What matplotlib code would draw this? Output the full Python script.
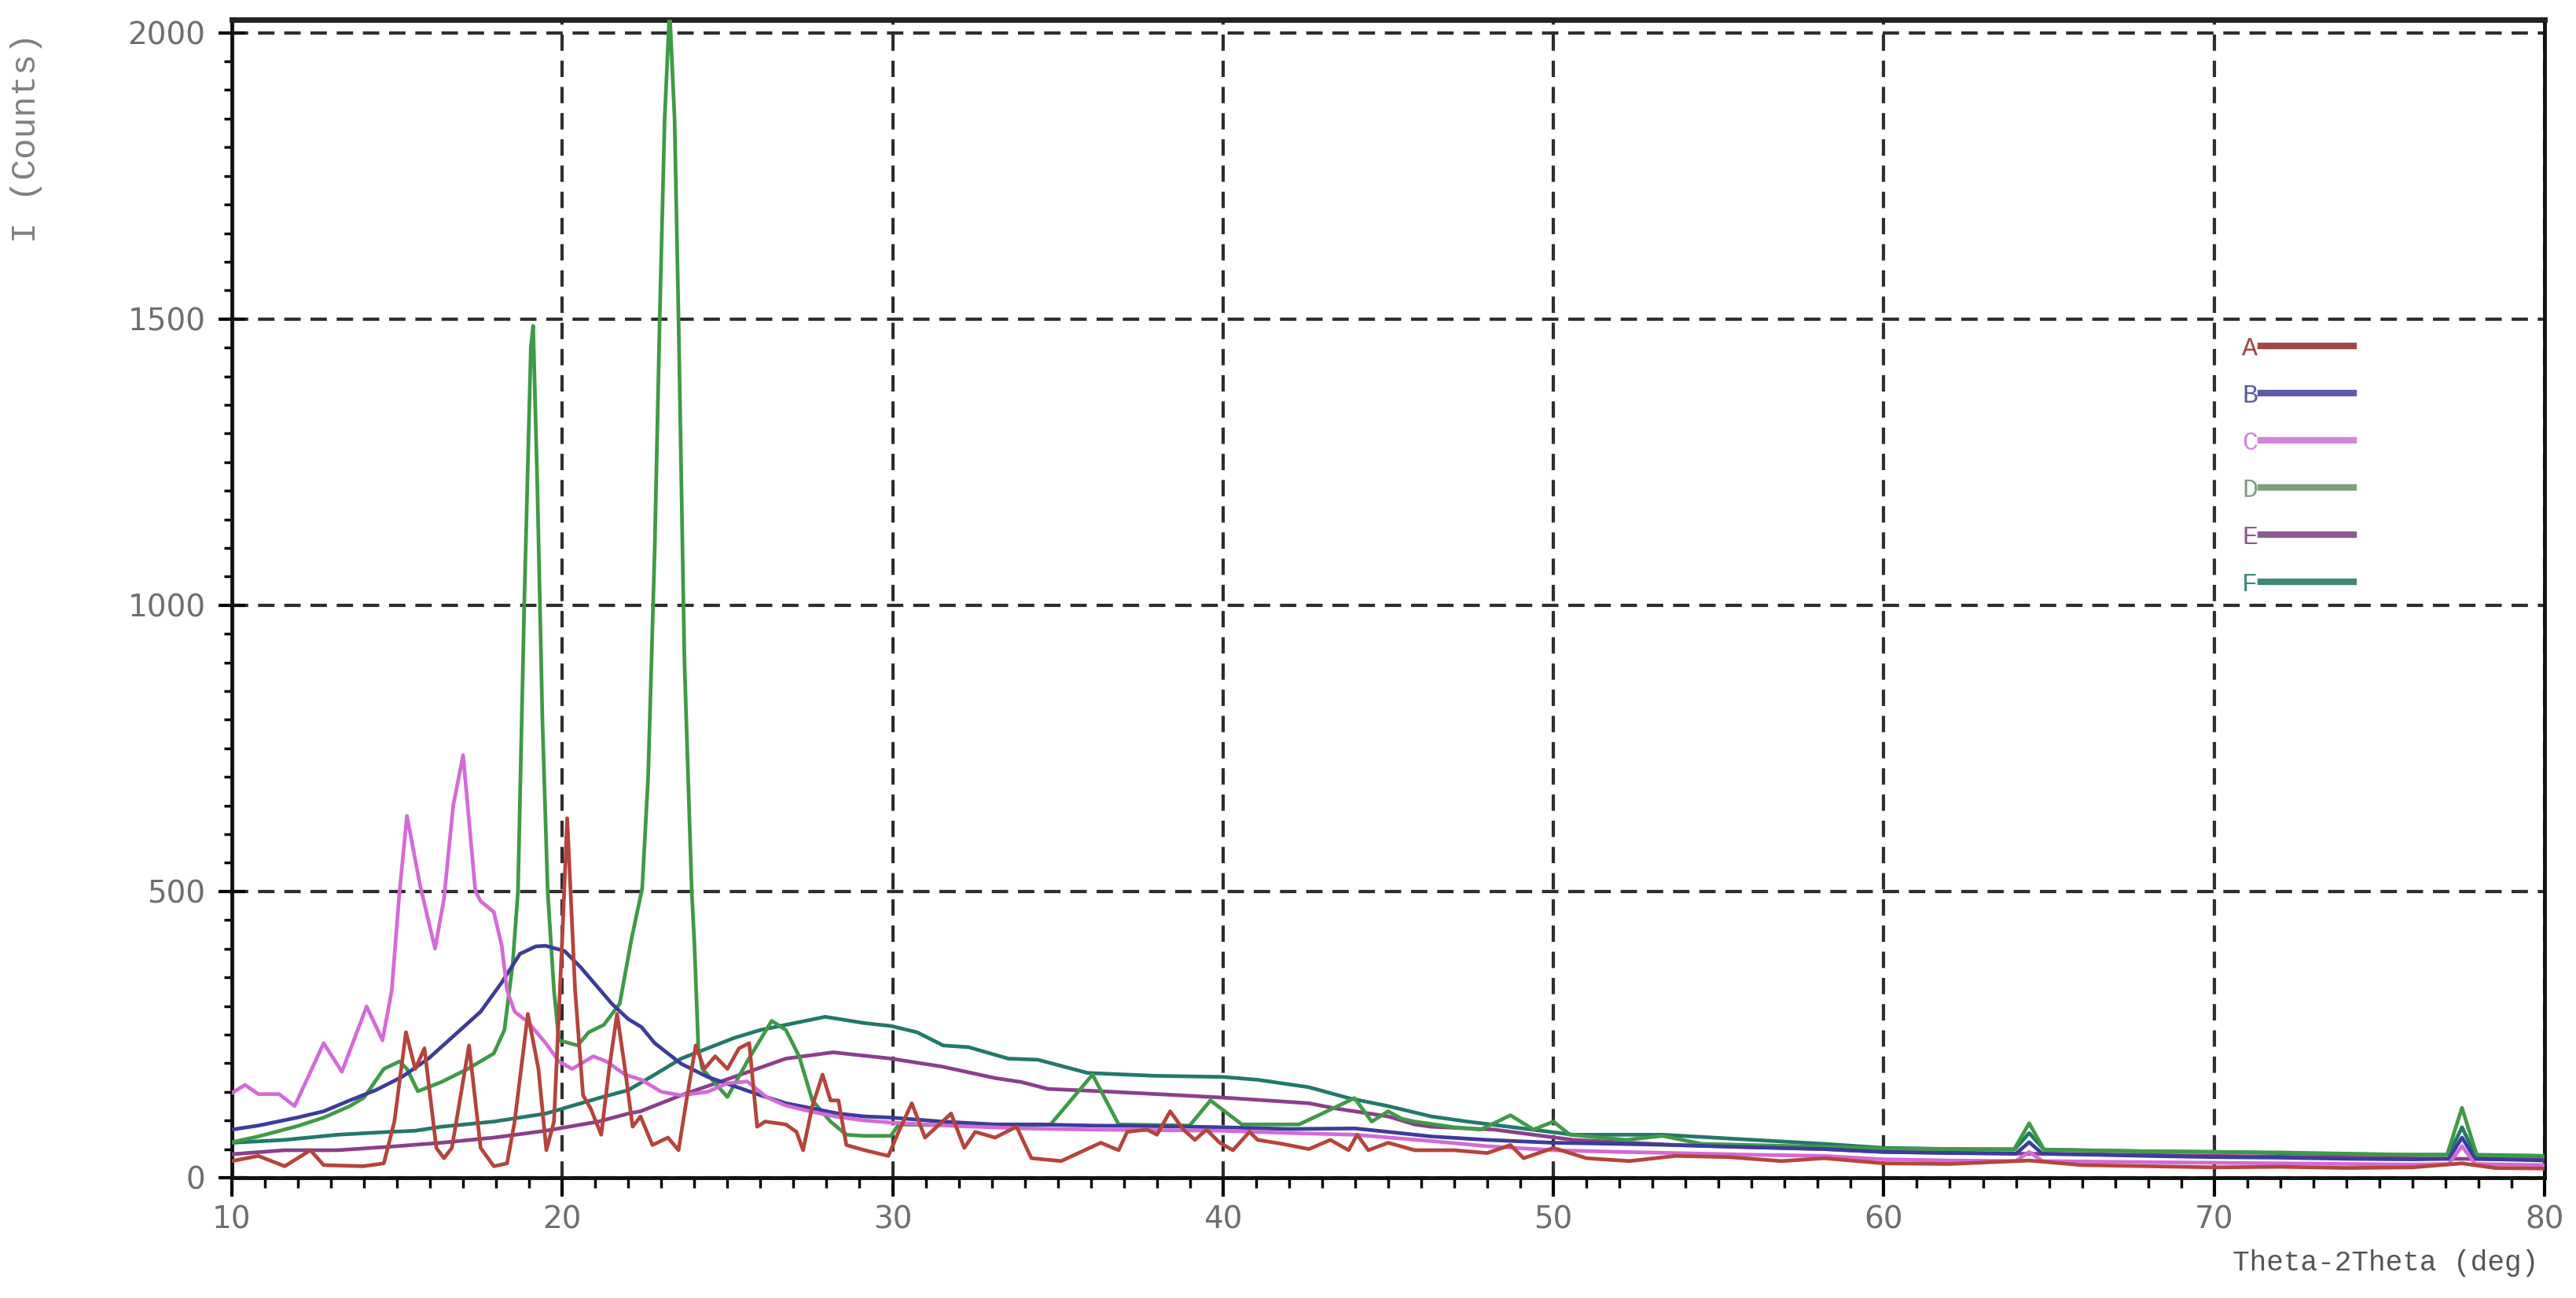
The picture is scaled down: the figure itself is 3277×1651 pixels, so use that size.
import matplotlib
matplotlib.use('Agg')
from matplotlib import pyplot as plt
from matplotlib.ticker import MultipleLocator
from matplotlib.lines import Line2D

# 读图得到的衍射数据 (2theta, counts)
a_x = [10, 10.8, 11.6, 12.38, 12.78, 13.97, 14.6, 14.92, 15.27, 15.55, 15.83, 16.19, 16.42, 16.66,
       17.18, 17.53, 17.93, 18.33, 18.56, 18.96, 19.28, 19.52, 19.75, 20.0, 20.15, 20.39, 20.63,
       20.86, 21.18, 21.42, 21.66, 21.9, 22.13, 22.37, 22.73, 23.2, 23.52, 23.76, 24.04, 24.3,
       24.63, 25.0, 25.35, 25.66, 25.9, 26.14, 26.77, 27.09, 27.29, 27.57, 27.88, 28.12, 28.36,
       28.6, 29.15, 29.87, 30.18, 30.58, 30.98, 31.77, 32.17, 32.5, 33.1, 33.75, 34.2, 35.1,
       36.3, 36.84, 37.1, 37.7, 38.0, 38.4, 38.8, 39.15, 39.5, 39.9, 40.3, 40.8, 41.05, 41.8,
       42.6, 43.25, 43.8, 44.06, 44.4, 45.0, 45.8, 47.0, 48.0, 48.7, 49.1, 50.0, 51.0, 52.3,
       53.7, 55.3, 56.9, 58.2, 60, 62, 64.4, 66, 68, 70, 72, 74, 76, 77.5, 78.5, 80]
a_y = [29, 38, 20, 48, 22, 20, 25, 98, 254, 190, 226, 52, 34, 52,
       231, 52, 20, 25, 98, 286, 190, 48, 98, 418, 628, 327, 144,
       121, 75, 190, 286, 190, 89, 107, 57, 70, 48, 135, 231, 190,
       212, 190, 226, 235, 89, 98, 93, 80, 48, 125, 180, 135, 135,
       57, 48, 38, 80, 130, 70, 112, 52, 80, 70, 89, 34, 29,
       61, 48, 80, 84, 75, 116, 84, 66, 84, 61, 48, 80, 66, 59,
       50, 66, 48, 75, 48, 61, 48, 48, 43, 57, 34, 52, 34, 29,
       38, 36, 29, 34, 25, 24, 30, 22, 20, 18, 19, 17, 18, 25, 17, 16]

b_x = [10, 10.8, 11.98, 12.78, 13.57, 14.36, 15.15, 15.95, 16.74, 17.53, 18.17, 18.72, 19.2,
       19.5, 20.07, 20.55, 21.1, 21.5, 22.0, 22.4, 22.8, 23.6, 24.4, 25.2, 26.0, 26.77, 27.57,
       28.36, 29.15, 29.95, 31.5, 33.1, 34.4, 36, 38, 40, 42, 44, 45, 46.3, 48, 50, 52, 53.7,
       56, 58.2, 60, 62, 64.0, 64.4, 64.8, 68, 70, 72, 74, 76, 77.1, 77.5, 77.9, 80]
b_y = [84, 91, 105, 116, 135, 153, 176, 208, 249, 290, 341, 391, 404,
       405, 396, 368, 331, 304, 277, 263, 235, 199, 176, 160, 144, 130, 121,
       112, 107, 105, 98, 93, 93, 91, 90, 88, 85, 86, 80, 72, 66, 61, 59, 57,
       53, 50, 45, 43, 42, 62, 42, 38, 36, 35, 33, 32, 33, 70, 33, 30]

c_x = [10, 10.4, 10.8, 11.43, 11.9, 12.78, 13.33, 14.08, 14.56, 14.84, 15.07, 15.3, 15.7, 16.15,
       16.42, 16.7, 17.0, 17.37, 17.53, 17.93, 18.17, 18.33, 18.56, 18.96, 19.5, 19.9, 20.3,
       20.94, 21.34, 21.9, 22.4, 23.0, 23.6, 24.4, 25.0, 25.6, 26.2, 26.77, 27.57, 28.36, 29.15,
       30, 32, 34, 36, 38, 40, 42, 44, 46.3, 48, 50, 52, 53.7, 56, 58.2, 60, 62, 64.0, 64.4,
       64.8, 68, 70, 72, 74, 76, 77.1, 77.5, 77.9, 80]
c_y = [148, 162, 146, 146, 125, 235, 185, 299, 240, 327, 496, 632, 510, 400,
       487, 650, 738, 501, 483, 464, 405, 327, 290, 272, 235, 203, 190,
       212, 203, 180, 171, 150, 144, 150, 165, 168, 140, 126, 115, 106, 100,
       96, 90, 86, 84, 83, 82, 78, 75, 64, 55, 48, 45, 43, 40, 38, 32, 30, 29, 45,
       29, 27, 26, 25, 24, 23, 24, 55, 24, 22]

d_x = [10, 10.8, 11.98, 12.78, 13.57, 14.0, 14.6, 15.07, 15.3, 15.63, 16.34, 17.14, 17.93, 18.25,
       18.5, 18.66, 18.85, 19.05, 19.12, 19.25, 19.4, 19.56, 19.75, 19.9, 20.47, 20.8, 21.26,
       21.74, 22.1, 22.42, 22.6, 22.8, 22.95, 23.1, 23.25, 23.4, 23.52, 23.7, 23.92, 24.0, 24.12,
       24.24, 25.0, 25.6, 26.34, 26.77, 27.17, 27.57, 28.12, 28.6, 29.15, 29.95, 30.18, 31,
       33.9, 34.78, 36.05, 36.84, 38.99, 39.62, 40.57, 42.3, 43.0, 43.98, 44.5, 45.0, 45.4,
       45.8, 47.0, 47.8, 48.7, 49.4, 50.0, 50.5, 52.2, 53.3, 54.5, 58.2, 60, 62, 63.95, 64.4,
       64.85, 68, 70, 72, 74, 76, 77.05, 77.5, 77.95, 80]
d_y = [62, 72, 90, 105, 125, 140, 190, 203, 190, 151, 167, 190, 217, 258,
       373, 500, 1000, 1450, 1488, 1200, 800, 500, 327, 240, 231, 254, 267,
       304, 418, 505, 700, 1100, 1500, 1850, 2040, 1850, 1500, 900, 500, 409, 226,
       190, 141, 203, 274, 258, 212, 135, 98, 75, 73, 73, 93, 92,
       91, 93, 180, 93, 91, 135, 93, 93, 112, 139, 98, 116, 103,
       98, 88, 84, 109, 84, 98, 75, 66, 73, 59, 54, 51, 50, 50, 95,
       49, 46, 45, 44, 42, 40, 40, 122, 39, 38]

e_x = [10, 11.6, 13.2, 14.76, 16.34, 17.93, 19.5, 21.1, 22.0, 22.37, 23.6, 25.2, 26.77, 28.2,
       29.95, 31.5, 33.1, 33.9, 34.7, 36.3, 38.67, 40.25, 42.6, 43.4, 45.0, 45.8, 46.3, 48.2,
       50.6, 53.7, 58.2, 60, 64, 66, 70, 74, 77, 80]
e_y = [41, 48, 48, 54, 61, 70, 82, 98, 112, 116, 144, 176, 208, 219,
       208, 194, 174, 167, 155, 151, 144, 139, 130, 121, 107, 93, 89, 84,
       66, 57, 50, 45, 42, 41, 38, 35, 33, 32]

f_x = [10, 11.6, 13.2, 14.76, 15.55, 16.34, 17.93, 19.5, 21.1, 22.0, 22.8, 23.6, 24.4, 25.2,
       26.0, 26.77, 27.96, 29.15, 29.95, 30.74, 31.53, 32.3, 33.5, 34.4, 35.9, 37.9, 40.0, 41.05,
       42.6, 43.8, 45.0, 46.3, 47.4, 50.6, 53.3, 58.2, 60, 62, 63.95, 64.4, 64.85, 68, 70, 72,
       74, 76, 77.1, 77.5, 77.9, 80]
f_y = [61, 66, 75, 80, 82, 89, 98, 112, 139, 153, 180, 208, 226, 244,
       258, 267, 281, 270, 265, 254, 231, 228, 208, 206, 183, 178, 176, 171,
       158, 139, 125, 107, 98, 75, 75, 59, 52, 50, 49, 78, 49, 46, 45, 43,
       41, 40, 40, 88, 40, 38]

labels = ['A', 'B', 'C', 'D', 'E', 'F']
colors = ['#b5443c', '#3c3c9c', '#d46ad8', '#3f9a45', '#8a3f8c', '#23786a']
legend_colors = ['#a04848', '#5a5aa8', '#d484dc', '#7f9f7f', '#8c5a90', '#3f8878']

plt.rcParams['font.family'] = ['DejaVu Sans']

fig = plt.figure(figsize=(32.77, 16.51), dpi=100)
ax = fig.add_axes([0.0900, 0.0927, 0.8978, 0.8922])

series = [(a_x, a_y), (b_x, b_y), (c_x, c_y), (d_x, d_y), (e_x, e_y), (f_x, f_y)]
# 画的顺序: F, E, D, B, C, A
for i in [5, 4, 3, 1, 2, 0]:
    xs, ys = series[i]
    ax.plot(xs, ys, color=colors[i], lw=3.4, zorder=3, solid_joinstyle='round')

ax.set_xlim(10, 80)
ax.set_ylim(0, 2023)

ax.xaxis.set_major_locator(MultipleLocator(10))
ax.xaxis.set_minor_locator(MultipleLocator(1))
ax.yaxis.set_major_locator(MultipleLocator(500))
ax.yaxis.set_minor_locator(MultipleLocator(50))

ax.grid(which='major', color='#2e2e2e', linestyle=(0, (5, 3)), lw=3, zorder=1)

for side in ['left', 'bottom', 'right']:
    ax.spines[side].set_linewidth(3.5)
    ax.spines[side].set_color('#111111')
ax.spines['top'].set_linewidth(5)
ax.spines['top'].set_color('#222222')

ax.tick_params(axis='x', which='major', direction='out', length=17, width=3,
               labelsize=28, labelcolor='#6e6e6e', pad=8)
ax.tick_params(axis='x', which='minor', direction='out', length=9, width=2.5)
ax.tick_params(axis='y', which='major', direction='inout', length=24, width=3,
               labelsize=28, labelcolor='#6e6e6e', pad=12)
ax.tick_params(axis='y', which='minor', direction='out', length=7, width=2.5)

# 图例: 字母在前, 线段在后
handles = [Line2D([0], [0], color=c, lw=6) for c in legend_colors]
leg = ax.legend(handles, labels, loc='upper left', bbox_to_anchor=(0.859, 0.747),
                frameon=False, markerfirst=False, handlelength=3.55, handletextpad=0.1,
                labelspacing=0.87, prop={'family': 'Liberation Mono', 'size': 24})
for t, c in zip(leg.get_texts(), legend_colors):
    t.set_color(c)

fig.text(0.9855, 0.027, 'Theta-2Theta (deg)', ha='right', va='center',
         family='Liberation Mono', fontsize=26, color='#555555')
fig.text(0.0102, 0.975, 'I (Counts)', ha='center', va='top', rotation=90,
         family='Liberation Mono', fontsize=32, color='#808080')

plt.savefig('out.png', dpi=100)
plt.close()
